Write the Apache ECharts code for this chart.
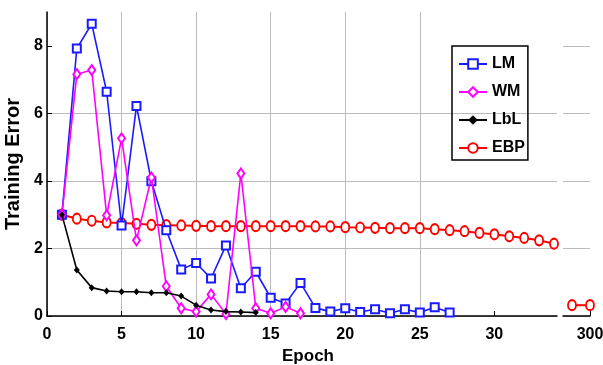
<!DOCTYPE html>
<html>
<head>
<meta charset="utf-8">
<script src="https://cdn.jsdelivr.net/npm/echarts@6/dist/echarts.min.js"></script>
<style>html,body{margin:0;padding:0;background:#fff}#chart{width:603px;height:365px}</style>
</head>
<body>
<div id="chart"></div>
<script>
// training error per epoch (epoch 1..n)
var lmErr=[3.0,7.92,8.65,6.64,2.68,6.22,3.99,2.54,1.38,1.57,1.11,2.09,0.82,1.31,0.54,0.37,0.98,0.24,0.13,0.23,0.12,0.2,0.08,0.2,0.1,0.26,0.1];
var wmErr=[3.0,7.16,7.28,2.98,5.26,2.24,4.1,0.88,0.23,0.13,0.64,0.06,4.22,0.23,0.08,0.27,0.08];
var lblErr=[3.0,1.36,0.84,0.74,0.72,0.72,0.69,0.69,0.59,0.32,0.18,0.13,0.12,0.1];
var ebpErr=[3.0,2.88,2.82,2.77,2.75,2.73,2.7,2.69,2.68,2.67,2.66,2.66,2.66,2.66,2.66,2.66,2.66,2.65,2.65,2.63,2.62,2.61,2.6,2.6,2.6,2.57,2.54,2.51,2.46,2.42,2.36,2.31,2.24,2.14];
var tailEpochs=[299,300];
var ebpTail=[0.32,0.32];
var xTicks=[0,5,10,15,20,25,30];
var yTicks=[0,2,4,6,8];

function pairs(vals){return vals.map(function(v,i){return [i+1,v];});}

var font='"Liberation Sans",Arial,sans-serif';
var lbl={fontFamily:font,fontWeight:'bold',fontSize:16,color:'#000'};

var chart=echarts.init(document.getElementById('chart'));
chart.setOption({
  animation:false,
  grid:[
    {left:47,right:46,top:12,bottom:49,outerBoundsMode:'none'},
    {left:563,right:13,top:12,bottom:49,outerBoundsMode:'none'}
  ],
  legend:{
    orient:'vertical',left:452,top:46,
    data:['LM','WM','LbL','EBP'],
    borderColor:'#000',borderWidth:1.5,
    padding:[10,3,4,6],itemGap:12,itemWidth:28,itemHeight:12,
    textStyle:{fontFamily:font,fontWeight:'bold',fontSize:16,lineHeight:16,color:'#000'}
  },
  xAxis:[
    {gridIndex:0,type:'value',min:0,max:34.2,interval:5,
     name:'Epoch',nameLocation:'middle',nameGap:29,
     nameTextStyle:{fontFamily:font,fontWeight:'bold',fontSize:17,color:'#000',padding:[0,0,0,12]},
     axisLine:{lineStyle:{color:'#000',width:1.5}},
     axisTick:{inside:true,length:5,customValues:xTicks,lineStyle:{color:'#000'}},
     axisLabel:Object.assign({margin:11,customValues:xTicks},lbl),
     splitLine:{show:true,showMaxLine:false,lineStyle:{color:'#bbb'}}},
    {gridIndex:1,type:'value',min:298.5,max:300,interval:1.5,
     axisLine:{lineStyle:{color:'#000',width:1.5}},
     axisTick:{inside:true,length:5,customValues:[300],lineStyle:{color:'#000'}},
     axisLabel:Object.assign({margin:11,customValues:[300]},lbl),
     splitLine:{show:true,showMinLine:false,lineStyle:{color:'#bbb'}}}
  ],
  yAxis:[
    {gridIndex:0,type:'value',min:0,max:9,interval:2,
     name:'Training Error',nameLocation:'middle',nameGap:13,nameRotate:90,
     nameTextStyle:{fontFamily:font,fontWeight:'bold',fontSize:20,color:'#000'},
     axisLine:{show:true,lineStyle:{color:'#000',width:1.5}},
     axisTick:{show:true,inside:true,length:5,customValues:yTicks,lineStyle:{color:'#000'}},
     axisLabel:Object.assign({margin:4,customValues:yTicks},lbl),
     splitLine:{show:true,showMaxLine:false,lineStyle:{color:'#bbb'}}},
    {gridIndex:1,type:'value',min:0,max:9,interval:2,
     axisLine:{show:false},axisTick:{show:false},axisLabel:{show:false},
     splitLine:{show:true,showMaxLine:false,lineStyle:{color:'#bbb'}}}
  ],
  series:[
    {name:'LM',type:'line',data:pairs(lmErr),symbol:'emptyRect',symbolSize:8,
     itemStyle:{color:'#1a1aff'},lineStyle:{width:1.6,color:'#1a1aff'},z:3},
    {name:'WM',type:'line',data:pairs(wmErr),symbol:'emptyDiamond',symbolSize:[7,10],
     itemStyle:{color:'#ff00ff'},lineStyle:{width:1.6,color:'#ff00ff'},z:4},
    {name:'LbL',type:'line',data:pairs(lblErr),symbol:'diamond',symbolSize:[6,7],
     itemStyle:{color:'#000'},lineStyle:{width:1.6,color:'#000'},z:5},
    {name:'EBP',type:'line',data:pairs(ebpErr),symbol:'emptyCircle',symbolSize:[8,10],
     itemStyle:{color:'#ff0000'},lineStyle:{width:2,color:'#ff0000'},z:2},
    {name:'EBP',type:'line',xAxisIndex:1,yAxisIndex:1,
     data:tailEpochs.map(function(e,i){return [e,ebpTail[i]];}),
     symbol:'emptyCircle',symbolSize:[8,10],clip:false,
     itemStyle:{color:'#ff0000'},lineStyle:{width:2,color:'#ff0000'},z:2}
  ]
});
</script>
</body>
</html>
